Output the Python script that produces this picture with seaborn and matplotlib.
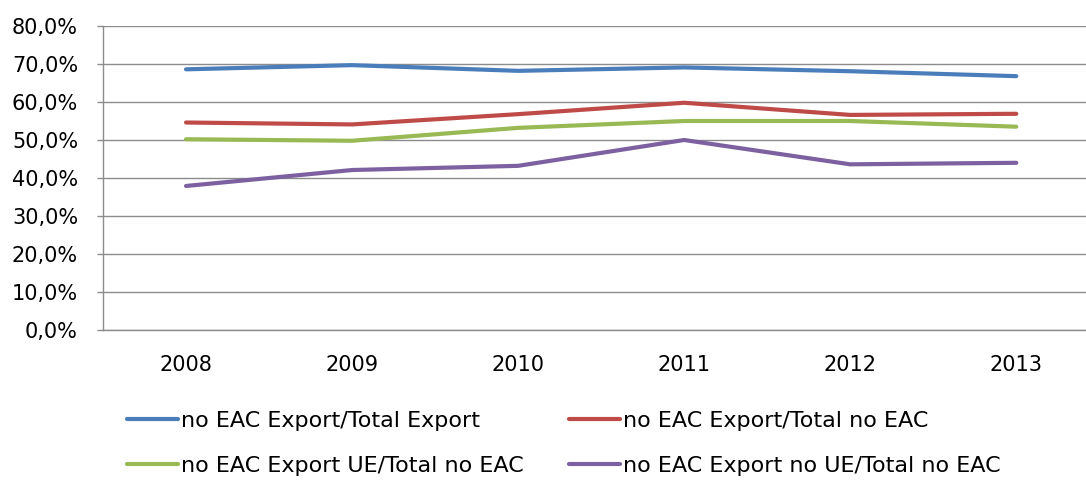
import matplotlib.pyplot as plt
import matplotlib.ticker as mticker
import pandas as pd
import seaborn as sns

years = [2008, 2009, 2010, 2011, 2012, 2013]
labels = ["no EAC Export/Total Export", "no EAC Export/Total no EAC",
          "no EAC Export UE/Total no EAC", "no EAC Export no UE/Total no EAC"]
export_total = [68.6, 69.7, 68.2, 69.1, 68.1, 66.8]
export_no_eac = [54.6, 54.1, 56.8, 59.8, 56.6, 56.9]
export_ue = [50.2, 49.8, 53.2, 55.0, 55.0, 53.5]
export_no_ue = [37.9, 42.1, 43.2, 50.0, 43.6, 44.0]
colors = ["#4A7EBB", "#BE4B48", "#98B954", "#7D60A0"]

df = pd.DataFrame({
    "year": years * 4,
    "value": export_total + export_no_eac + export_ue + export_no_ue,
    "serie": [l for l in labels for _ in years],
})

sns.set_style("white")
plt.rcParams["font.family"] = ["DejaVu Sans"]

fig = plt.figure(figsize=(10.86, 4.8), dpi=100)
ax = fig.add_axes([103 / 1086, 150 / 480, 983 / 1086, 304 / 480])

sns.lineplot(data=df, x="year", y="value", hue="serie", palette=colors,
             linewidth=3, ax=ax, legend=False, solid_capstyle="round")

ax.set_xlim(2007.5, 2013.42)
ax.set_ylim(0, 80)
ax.set_yticks(range(0, 81, 10))
ax.yaxis.set_major_formatter(mticker.FuncFormatter(lambda v, p: f"{v:.1f}".replace(".", ",") + "%"))
ax.set_xticks(years)
ax.set_xticklabels([str(y) for y in years])
ax.grid(axis="y", color="#8c8c8c", linewidth=1)
ax.set_axisbelow(True)
ax.set_xlabel("")
ax.set_ylabel("")

for s in ["top", "right"]:
    ax.spines[s].set_visible(False)
for s in ["left", "bottom"]:
    ax.spines[s].set_color("#8c8c8c")
    ax.spines[s].set_linewidth(1)

ax.tick_params(axis="y", which="major", left=True, length=4, width=1, color="#8c8c8c",
               pad=14, labelsize=15, labelcolor="black")
ax.tick_params(axis="x", which="major", bottom=False, length=0, pad=18,
               labelsize=15, labelcolor="black")

# legend filled row by row, like the original
order = [0, 2, 1, 3]
handles = [plt.Line2D([], [], color=colors[i], linewidth=3, solid_capstyle="round") for i in order]
fig.legend(handles, [labels[i] for i in order], ncol=2, loc="upper left",
           bbox_to_anchor=(127 / 1086, 1 - 411 / 480), frameon=False, fontsize=16,
           labelcolor="black", handlelength=2.3, handletextpad=0.12,
           columnspacing=2.05, labelspacing=1.12, borderpad=0, borderaxespad=0)

fig.savefig("out.png", dpi=100)
